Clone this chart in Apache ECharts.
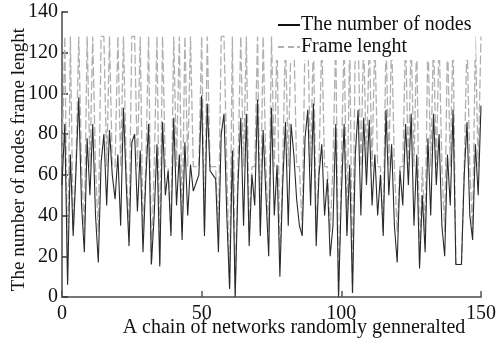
<!DOCTYPE html>
<html>
<head>
<meta charset="utf-8">
<script src="https://cdn.jsdelivr.net/npm/echarts@6/dist/echarts.min.js"></script>
<style>
html,body{margin:0;padding:0;background:#fff;}
#c{width:496px;height:342px;}
</style>
</head>
<body>
<div id="c"></div>
<script>
var nodes = [55,85,6,70,30,62,98,45,22,78,50,85,40,17,66,80,45,82,60,48,
70,35,93,55,25,76,80,42,72,22,58,85,16,40,75,15,86,50,62,30,
88,45,70,28,76,40,65,52,56,60,99,30,95,62,60,58,22,80,90,40,
4,72,0,55,88,35,90,25,60,45,97,30,82,50,20,93,40,65,10,55,
86,35,85,70,48,35,30,78,92,45,95,25,60,75,40,58,20,35,85,0,
50,85,30,65,2,70,92,40,88,55,87,45,70,40,60,30,92,50,75,35,
17,62,45,85,55,90,35,70,14,50,22,78,40,90,55,80,35,20,70,45,
92,16,16,16,60,86,40,28,75,50,94];
var frameLen = [64,128,8,128,32,64,128,64,32,128,64,128,64,32,128,128,64,128,64,64,
128,64,128,64,32,128,128,64,128,32,64,128,16,64,128,16,128,64,64,32,
128,64,128,32,128,64,128,64,64,64,128,32,128,64,64,64,32,128,128,64,
4,128,1,64,128,64,128,32,64,64,128,32,128,64,32,128,64,128,16,64,
128,64,128,128,64,64,32,128,128,64,128,32,64,128,64,64,32,64,128,1,
64,128,32,128,2,128,128,64,128,64,128,64,128,64,64,32,128,64,128,64,
32,64,64,128,64,128,64,128,16,64,32,128,64,128,64,128,64,32,128,64,
128,16,16,16,64,128,64,32,128,64,128];
var xTicks = [0,50,100,150];
var yTicks = [0,20,40,60,80,100,120,140];
var seriesNames = ['The number of nodes','Frame lenght'];
var xName = 'A chain of networks randomly genneralted';
var yName = 'The number of nodes frame lenght';

function pairs(arr){ return arr.map(function(v,i){ return [i, v]; }); }

var font = 'Liberation Serif';
var chart = echarts.init(document.getElementById('c'), null, {renderer:'canvas'});
chart.setOption({
  animation:false,
  backgroundColor:'#fff',
  textStyle:{fontFamily:font},
  grid:{left:62,right:15,top:12,bottom:45,containLabel:false,outerBoundsMode:'none'},
  legend:{
    orient:'vertical',
    left:276, top:14,
    data:[
      {name:seriesNames[0], icon:'path://M0,0 L22,0 L22,2 L0,2 Z'},
      {name:seriesNames[1], icon:'path://M0,0 L6,0 L6,2 L0,2 Z M10,0 L16,0 L16,2 L10,2 Z M19,0 L22,0 L22,2 L19,2 Z'}
    ],
    itemWidth:22, itemHeight:2, itemGap:2,
    backgroundColor:'#fff',
    padding:[1,4,3,2],
    textStyle:{fontFamily:font,fontSize:20,color:'#111',padding:[0,0,0,-4]}
  },
  xAxis:{
    type:'value', min:0, max:150, interval:50,
    name:xName, nameLocation:'middle', nameGap:21, nameMoveOverlap:false,
    nameTextStyle:{fontFamily:font,fontSize:20,color:'#111',padding:[0,0,0,45]},
    axisLine:{show:true,lineStyle:{color:'#777',width:2}},
    axisTick:{show:true,inside:true,length:6,lineStyle:{color:'#555',width:1.5}},
    axisLabel:{fontFamily:font,fontSize:20,color:'#111',margin:7,
      formatter:function(v){return xTicks.indexOf(v)>=0?String(v):'';}},
    splitLine:{show:false}
  },
  yAxis:{
    type:'value', min:0, max:140, interval:20,
    name:yName, nameLocation:'middle', nameGap:33, nameMoveOverlap:false,
    nameTextStyle:{fontFamily:font,fontSize:19,color:'#111',padding:[0,0,0,-10]},
    axisLine:{show:true,lineStyle:{color:'#777',width:2}},
    axisTick:{show:true,inside:true,length:6,lineStyle:{color:'#333',width:1.5}},
    axisLabel:{fontFamily:font,fontSize:20,color:'#111',margin:4,
      formatter:function(v){return yTicks.indexOf(v)>=0?String(v):'';}},
    splitLine:{show:false}
  },
  series:[
    {name:seriesNames[1], type:'line', data:pairs(frameLen), showSymbol:false, symbol:'none',
     z:2, lineStyle:{color:'#b0b0b0',width:1.3,type:[9,3]}, itemStyle:{color:'#b0b0b0'}},
    {name:seriesNames[0], type:'line', data:pairs(nodes), showSymbol:false, symbol:'none',
     z:3, lineStyle:{color:'#2a2a2a',width:1.1}, itemStyle:{color:'#111'}}
  ]
});
</script>
</body>
</html>
